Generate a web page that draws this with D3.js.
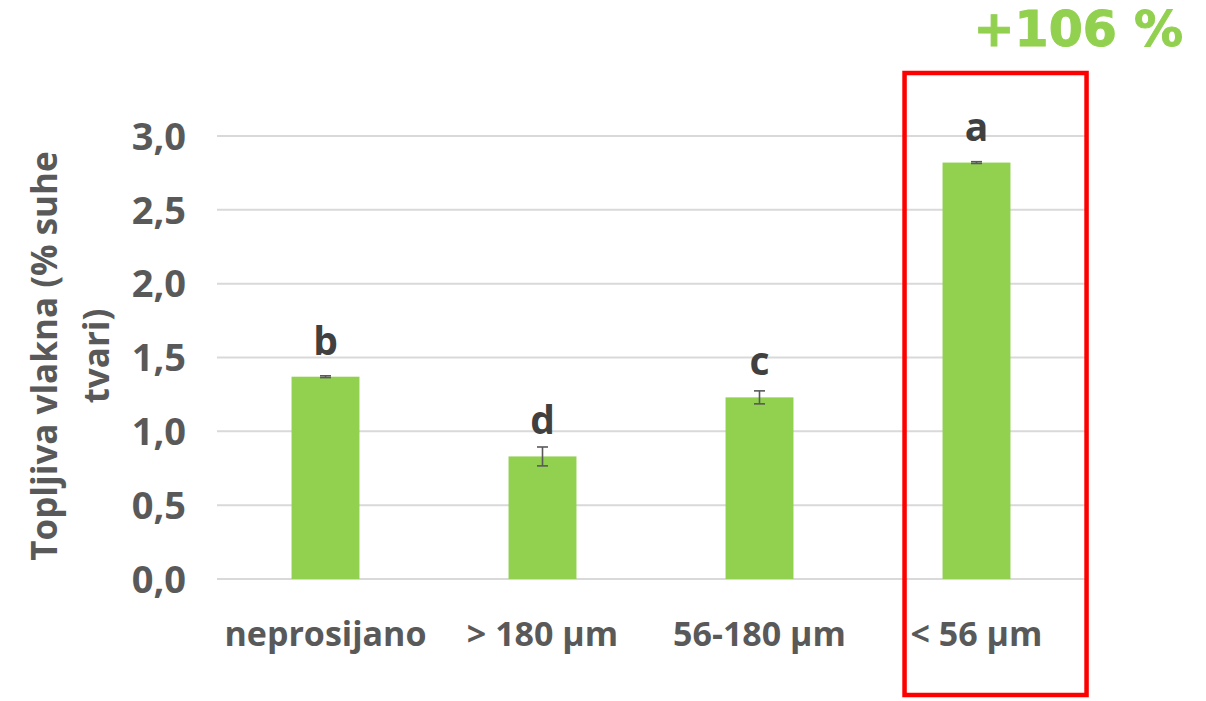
<!DOCTYPE html>
<html>
<head>
<meta charset="utf-8">
<script src="https://cdn.jsdelivr.net/npm/d3@7"></script>
<style>
  body { margin: 0; background: #fff; }
  text { font-family: "Open Sans", sans-serif; font-weight: bold; fill: #595959; }
</style>
</head>
<body>
<div id="chart"></div>
<script>
// data
var categories = ["neprosijano", "> 180 µm", "56-180 µm", "< 56 µm"];
var means = [1.37, 0.83, 1.23, 2.82];
var errors = [0.006, 0.064, 0.044, 0.006];
var letters = ["b", "d", "c", "a"];
var yTicks = [0, 0.5, 1.0, 1.5, 2.0, 2.5, 3.0];
var highlight = "+106 %";

var data = categories.map(function(c, i) {
  return {cat: c, mean: means[i], err: errors[i], letter: letters[i]};
});

var width = 1206, height = 701;
var plot = {left: 217, right: 1085, top: 136, bottom: 579};

var svg = d3.select("#chart")
  .append("svg")
  .attr("width", width)
  .attr("height", height);

var x = d3.scaleBand()
  .domain(categories)
  .range([plot.left, plot.right])
  .paddingInner(0.687)
  .paddingOuter(0.3435);

var y = d3.scaleLinear()
  .domain([0, 3])
  .range([plot.bottom, plot.top]);

// gridlines
svg.append("g")
  .selectAll("line")
  .data(yTicks)
  .enter()
  .append("line")
  .attr("x1", plot.left)
  .attr("x2", plot.right)
  .attr("y1", function(d) { return y(d); })
  .attr("y2", function(d) { return y(d); })
  .style("stroke", "#d9d9d9")
  .style("stroke-width", 2);

// y tick labels
svg.append("g")
  .selectAll("text")
  .data(yTicks)
  .enter()
  .append("text")
  .attr("x", 186)
  .attr("y", function(d) { return y(d); })
  .attr("dy", "0.36em")
  .attr("text-anchor", "end")
  .style("font-size", "38px")
  .text(function(d) { return d3.format(".1f")(d).replace(".", ","); });

// bars
svg.append("g")
  .selectAll("rect")
  .data(data)
  .enter()
  .append("rect")
  .attr("x", function(d) { return x(d.cat); })
  .attr("y", function(d) { return y(d.mean); })
  .attr("width", x.bandwidth())
  .attr("height", function(d) { return y(0) - y(d.mean); })
  .style("fill", "#92d050");

// error bars
var eb = svg.append("g")
  .selectAll("g")
  .data(data)
  .enter()
  .append("g")
  .style("stroke", "#595959")
  .style("stroke-width", 1.6);

eb.append("line")
  .attr("x1", function(d) { return x(d.cat) + x.bandwidth() / 2; })
  .attr("x2", function(d) { return x(d.cat) + x.bandwidth() / 2; })
  .attr("y1", function(d) { return y(d.mean - d.err); })
  .attr("y2", function(d) { return y(d.mean + d.err); });

[-1, 1].forEach(function(s) {
  eb.append("line")
    .attr("x1", function(d) { return x(d.cat) + x.bandwidth() / 2 - 5.5; })
    .attr("x2", function(d) { return x(d.cat) + x.bandwidth() / 2 + 5.5; })
    .attr("y1", function(d) { return y(d.mean + s * d.err); })
    .attr("y2", function(d) { return y(d.mean + s * d.err); });
});

// significance letters
svg.append("g")
  .selectAll("text")
  .data(data)
  .enter()
  .append("text")
  .attr("x", function(d) { return x(d.cat) + x.bandwidth() / 2; })
  .attr("y", function(d) { return y(d.mean) - 22; })
  .attr("text-anchor", "middle")
  .style("font-size", "39px")
  .style("fill", "#404040")
  .text(function(d) { return d.letter; });

// category labels
svg.append("g")
  .selectAll("text")
  .data(categories)
  .enter()
  .append("text")
  .attr("x", function(d) { return x(d) + x.bandwidth() / 2; })
  .attr("y", 646)
  .attr("text-anchor", "middle")
  .style("font-size", "34px")
  .text(function(d) { return d; });

// y axis title (two lines)
var yt = svg.append("text")
  .attr("transform", "translate(57,356) rotate(-90)")
  .attr("text-anchor", "middle")
  .style("font-size", "35px");
yt.append("tspan").attr("x", 0).attr("y", 0).text("Topljiva vlakna (% suhe");
yt.append("tspan").attr("x", 0).attr("y", 52).text("tvari)");

// highlight box around the last category
var last = categories[categories.length - 1];
svg.append("rect")
  .attr("x", x(last) - 38)
  .attr("y", 73)
  .attr("width", 182)
  .attr("height", 622)
  .style("fill", "none")
  .style("stroke", "#ff0000")
  .style("stroke-width", 4.5);

svg.append("text")
  .attr("x", 1183)
  .attr("y", 46)
  .attr("text-anchor", "end")
  .style("font-family", "'DejaVu Sans', sans-serif")
  .style("font-size", "49px")
  .style("fill", "#92d050")
  .style("stroke", "#92d050")
  .style("stroke-width", 1)
  .text(highlight);
</script>
</body>
</html>
